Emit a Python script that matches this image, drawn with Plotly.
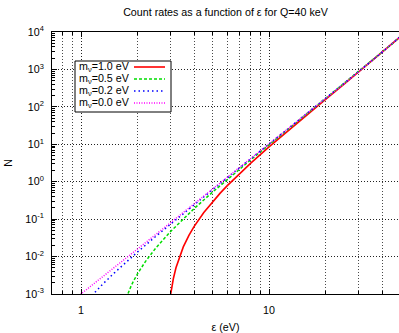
import plotly.graph_objects as go

# Integrated count rate N in the last eps eV below the endpoint (Q = 40 keV)
masses = ["1.0", "0.5", "0.2", "0.0"]
colors = ["#ff0000", "#00dd00", "#0000ff", "#ff00ff"]
dashes = ["solid", "3px,2px", "1.5px,3px", "1px,1.5px"]

eps_m10 = [2.85, 2.9, 2.95, 3.0, 3.05, 3.1, 3.2, 3.35, 3.5, 3.75, 4, 4.5, 5, 5.5, 6, 7, 8,
           10, 12, 15, 20, 25, 30, 35, 40, 45, 50]
n_m10 = [1.5e-5, 1.68e-4, 4.9e-4, 1.0e-3, 1.70e-3, 2.59e-3, 5.02e-3, 0.0104, 0.0181, 0.0368,
         0.064, 0.150, 0.289, 0.495, 0.784, 1.68, 3.15,
         8.53, 18.7, 48.0, 159, 400, 855, 1631, 2869, 4748, 7496]

eps_m05 = [1.7, 1.75, 1.8, 1.85, 1.9, 2.0, 2.2, 2.5, 3, 3.5, 4, 5, 6, 7, 8,
           10, 12, 15, 20, 25, 30, 35, 40, 45, 50]
n_m05 = [5.8e-4, 8.7e-4, 1.23e-3, 1.67e-3, 2.19e-3, 3.50e-3, 7.34e-3, 0.0170, 0.0472, 0.102,
         0.192, 0.523, 1.15, 2.20, 3.85,
         9.66, 20.4, 50.6, 163.5, 408, 866, 1646, 2890, 4775, 7531]

eps_m02 = [1.1, 1.15, 1.2, 1.3, 1.5, 1.75, 2, 2.5, 3, 4, 5, 6, 7, 8,
           10, 12, 15, 20, 25, 30, 35, 40, 45, 50]
n_m02 = [7.4e-4, 9.5e-4, 1.19e-3, 1.80e-3, 3.62e-3, 7.37e-3, 0.0133, 0.0348, 0.0749, 0.245,
         0.608, 1.27, 2.37, 4.07,
         10.0, 20.9, 51.4, 165, 410, 869, 1651, 2897, 4784, 7542]

eps_m00 = [0.9, 1, 1.2, 1.5, 2, 2.5, 3, 4, 5, 6, 7, 8,
           10, 12, 15, 20, 25, 30, 35, 40, 45, 50]
n_m00 = [6.6e-4, 1.0e-3, 2.07e-3, 5.06e-3, 0.016, 0.039, 0.081, 0.256, 0.625, 1.30, 2.40, 4.12,
         10.1, 21.0, 51.6, 165, 411, 870, 1653, 2898, 4786, 7544]

series_eps = [eps_m10, eps_m05, eps_m02, eps_m00]
series_n = [n_m10, n_m05, n_m02, n_m00]

x_ticks = [1, 10]
x_ticktext = ["1", "10"]
y_exponents = list(range(-3, 5))

FONT = "Liberation Sans, Arial, Helvetica, sans-serif"
FS = 10.7
W, H = 399, 333
L, R, T, B = 52, 0, 32, 39
PW, PH = W - L - R, H - T - B


def px_x(p):
    return (p - L) / PW


def px_y(p):
    return (H - B - p) / PH


fig = go.Figure()
for m, xs, ys, c, d in zip(masses, series_eps, series_n, colors, dashes):
    fig.add_trace(go.Scatter(
        x=xs, y=ys, mode="lines", name=f"m<sub>ν</sub>={m} eV",
        line=dict(color=c, width=1.6 if d == "solid" else 1.5, dash=d),
        showlegend=False,
    ))

minor_x = [d * 10.0 ** k for k in (-1, 0, 1) for d in range(2, 10)]
minor_y_all = [d * 10.0 ** k for k in range(-3, 4) for d in range(2, 10)]
minor_y_grid = [d * 10.0 ** k for k in range(-3, 4) for d in (2, 5)]

grid_major = dict(showgrid=True, gridcolor="#222", griddash="1px,2px", gridwidth=1)
MINOR_GRID = "#4a4a4a"
y_range = [-3, 4]
y_vals = [10.0 ** e for e in y_exponents]
y_text = [f"10<sup>{e}</sup>" for e in y_exponents]

fig.update_layout(
    width=W, height=H,
    margin=dict(l=L, r=R, t=T, b=B),
    paper_bgcolor="white", plot_bgcolor="white",
    showlegend=False,
    font=dict(family=FONT, size=FS, color="black"),
    title=dict(text="Count rates as a function of ε for Q=40 keV",
               x=0.5, xref="paper", xanchor="center",
               y=1 - 12 / H, yref="container", yanchor="middle",
               font=dict(family=FONT, size=FS, color="black")),
    xaxis=dict(
        type="log", range=[-0.1543, 1.6915],
        tickmode="array", tickvals=x_ticks, ticktext=x_ticktext,
        ticks="inside", ticklen=5, tickcolor="black",
        showline=True, linecolor="black", linewidth=1, mirror="ticks",
        zeroline=False, ticklabelstandoff=6,
        minor=dict(tickmode="array", tickvals=minor_x, ticks="inside", ticklen=3,
                   tickcolor="black", showgrid=True, gridcolor=MINOR_GRID,
                   griddash="1px,2px", gridwidth=1),
        title=dict(text="ε (eV)", standoff=8, font=dict(family=FONT, size=FS)),
        **grid_major,
    ),
    yaxis=dict(
        type="log", range=y_range,
        tickmode="array", tickvals=y_vals, ticktext=y_text,
        ticks="inside", ticklen=5, tickcolor="black",
        showline=True, linecolor="black", linewidth=1, mirror=False,
        zeroline=False, ticklabelstandoff=5,
        minor=dict(tickmode="array", tickvals=minor_y_all, ticks="inside", ticklen=3,
                   tickcolor="black", showgrid=False),
        title=dict(text="N", standoff=10, font=dict(family=FONT, size=FS)),
        **grid_major,
    ),
    yaxis2=dict(
        type="log", range=y_range, overlaying="y", side="right", anchor="x",
        tickmode="array", tickvals=y_vals, showticklabels=False,
        ticks="inside", ticklen=5, tickcolor="black",
        showline=False, showgrid=False, zeroline=False,
        minor=dict(tickmode="array", tickvals=minor_y_all, ticks="inside", ticklen=3,
                   tickcolor="black", showgrid=False),
    ),
    yaxis3=dict(
        type="log", range=y_range, overlaying="y", side="left", anchor="x",
        tickmode="array", tickvals=y_vals, showticklabels=False, ticks="",
        showline=False, showgrid=False, zeroline=False,
        minor=dict(tickmode="array", tickvals=minor_y_grid, ticks="",
                   showgrid=True, gridcolor=MINOR_GRID, griddash="1px,2px", gridwidth=1),
    ),
)

# Legend box: labels on the left, line samples on the right
box = dict(x0=75, x1=171, y0=61, y1=112)
fig.add_shape(type="rect", xref="paper", yref="paper",
              x0=px_x(box["x0"]), x1=px_x(box["x1"]),
              y0=px_y(box["y1"]), y1=px_y(box["y0"]),
              line=dict(color="black", width=1), fillcolor="white", layer="above")
row_y = [67, 79, 91, 103]
for m, c, d, ry in zip(masses, colors, dashes, row_y):
    fig.add_annotation(text=f"m<sub>ν</sub>={m} eV", xref="paper", yref="paper",
                       x=px_x(77), y=px_y(ry), xanchor="left", yanchor="middle",
                       showarrow=False, font=dict(family=FONT, size=FS, color="black"))
    fig.add_shape(type="line", xref="paper", yref="paper",
                  x0=px_x(134), x1=px_x(165), y0=px_y(ry), y1=px_y(ry),
                  line=dict(color=c, width=1.6 if d == "solid" else 1.5, dash=d),
                  layer="above")

fig.write_html("out.html")
